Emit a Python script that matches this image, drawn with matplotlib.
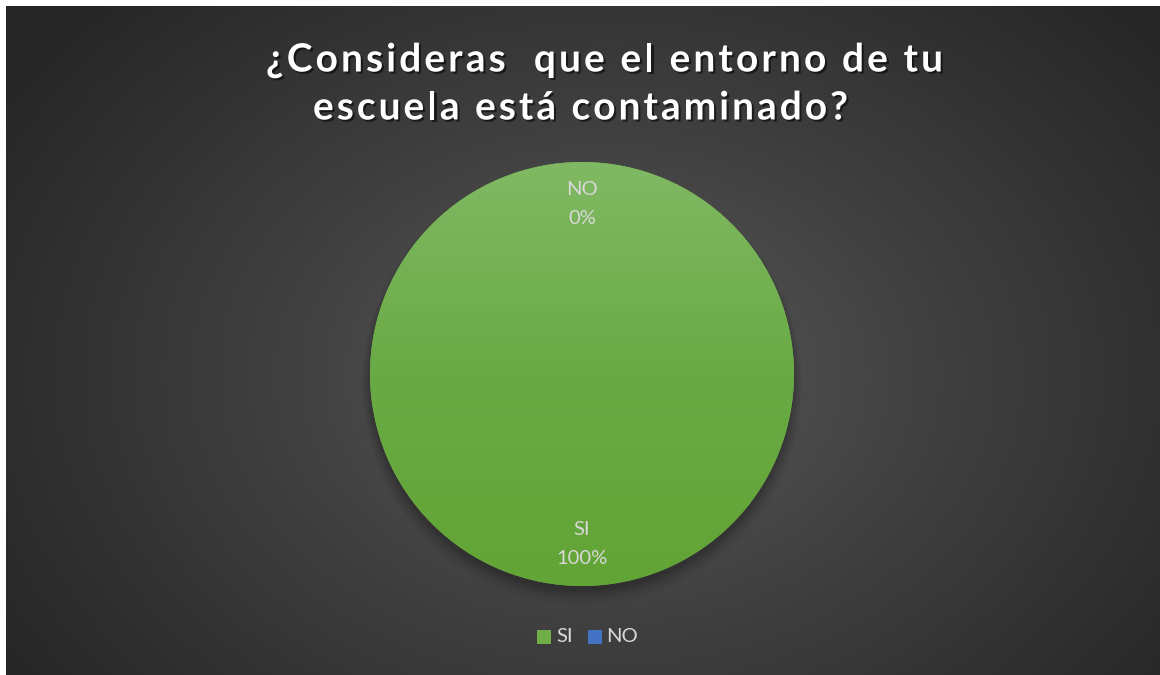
import numpy as np
import matplotlib
matplotlib.use("Agg")
import matplotlib.pyplot as plt
import matplotlib.patheffects as pe
from matplotlib.textpath import TextToPath
from matplotlib.font_manager import FontProperties
from matplotlib.colors import LinearSegmentedColormap
from matplotlib.patches import Circle, Rectangle

categories = ["SI", "NO"]
values = [100, 0]
colors = ["#70AD47", "#4472C4"]
title_lines = ["¿Consideras  que el entorno de tu", "escuela está contaminado?"]

W, H, DPI = 1160, 675, 100
fig = plt.figure(figsize=(W / DPI, H / DPI), dpi=DPI, facecolor="white")

# background with radial gradient (dark area starts after a thin white border)
bg = fig.add_axes([6 / W, 0, (W - 6) / W, (H - 6) / H])
bg.set_axis_off()
ny, nx = 300, 520
yy, xx = np.mgrid[0:ny, 0:nx]
cx, cy = nx * 0.52, ny * 0.55
r = np.sqrt(((xx - cx) / (nx * 0.62)) ** 2 + ((yy - cy) / (ny * 0.80)) ** 2)
r = np.clip(r, 0, 1)
cmap_bg = LinearSegmentedColormap.from_list("bg", ["#595959", "#3e3e3e", "#262626"])
bg.imshow(r, cmap=cmap_bg, vmin=0, vmax=1, aspect="auto", extent=[0, 1, 0, 1], origin="upper")
bg.set_xlim(0, 1)
bg.set_ylim(0, 1)

# pie axes
R = 212
pcx, pcy = 582, H - 374
ax = fig.add_axes([(pcx - R) / W, (pcy - R) / H, 2 * R / W, 2 * R / H])
ax.set_axis_off()

# shadow
for i, a in enumerate(np.linspace(0.05, 0.012, 8)):
    s = Circle((0, -0.025 - i * 0.004), 1.0 + i * 0.006, facecolor="black", edgecolor="none",
               alpha=a, zorder=0, clip_on=False)
    ax.add_patch(s)

wedges, _ = ax.pie(values, colors=colors, startangle=90, counterclock=False,
                   radius=1, wedgeprops=dict(linewidth=0))
ax.set_xlim(-1, 1)
ax.set_ylim(-1, 1)
ax.set_aspect("equal")

# gradient fill on the full wedge
grad = np.linspace(0, 1, 256).reshape(-1, 1)
cmap_g = LinearSegmentedColormap.from_list("g", ["#80B963", "#6AAA45", "#62A435"])
im = ax.imshow(grad, cmap=cmap_g, extent=[-1, 1, -1, 1], origin="upper", aspect="auto", zorder=2)
im.set_clip_path(wedges[0])
wedges[0].set_zorder(1)

label_color = "#D9D9D9"
lab_font = "Lato"
for w, cat, v in zip(wedges, categories, values):
    if abs(w.theta2 - w.theta1) < 1e-6:
        mid = np.deg2rad(w.theta1)
    else:
        mid = np.deg2rad((w.theta1 + w.theta2) / 2.0)
    d = 0.80
    x, y = d * np.cos(mid), d * np.sin(mid)
    ax.text(x, y, f"{cat}\n{v:.0f}%", ha="center", va="center", color=label_color,
            fontsize=14.5, family=lab_font, linespacing=1.85, zorder=5)

# title with letter spacing
tp = TextToPath()
prop = FontProperties(family="Lato", weight="bold", size=28)
def wid(s):
    if not s:
        return 0.0
    w, h, d = tp.get_text_width_height_descent(s.replace(" ", "\u00a0"), prop, ismath=False)
    return w * DPI / 72.0

def spaced(text, x_left, x_right, y_center):
    n = len(text)
    base = wid(text)
    sp = (x_right - x_left - base) / max(n - 1, 1)
    for i, ch in enumerate(text):
        if ch == " ":
            continue
        x = x_left + wid(text[:i]) + i * sp
        fig.text(x / W, 1 - y_center / H, ch, fontproperties=prop, color="white",
                 ha="left", va="center_baseline",
                 path_effects=[pe.withSimplePatchShadow(offset=(1.5, -1.5), shadow_rgbFace="black", alpha=0.55)])

spaced(title_lines[0], 266, 943, 57)
spaced(title_lines[1], 313, 848, 105)

# legend
leg_y = H - 637
for cat, col, xs, xt in [("SI", colors[0], 537, 556), ("NO", colors[1], 588, 606)]:
    fig.patches.append(Rectangle((xs / W, (leg_y - 7) / H), 14 / W, 14 / H,
                                 transform=fig.transFigure, facecolor=col, edgecolor="none"))
    fig.text(xt / W, leg_y / H, cat, color=label_color, fontsize=14.5, family=lab_font,
             ha="left", va="center")

fig.savefig("out.png", dpi=DPI, facecolor="white")
